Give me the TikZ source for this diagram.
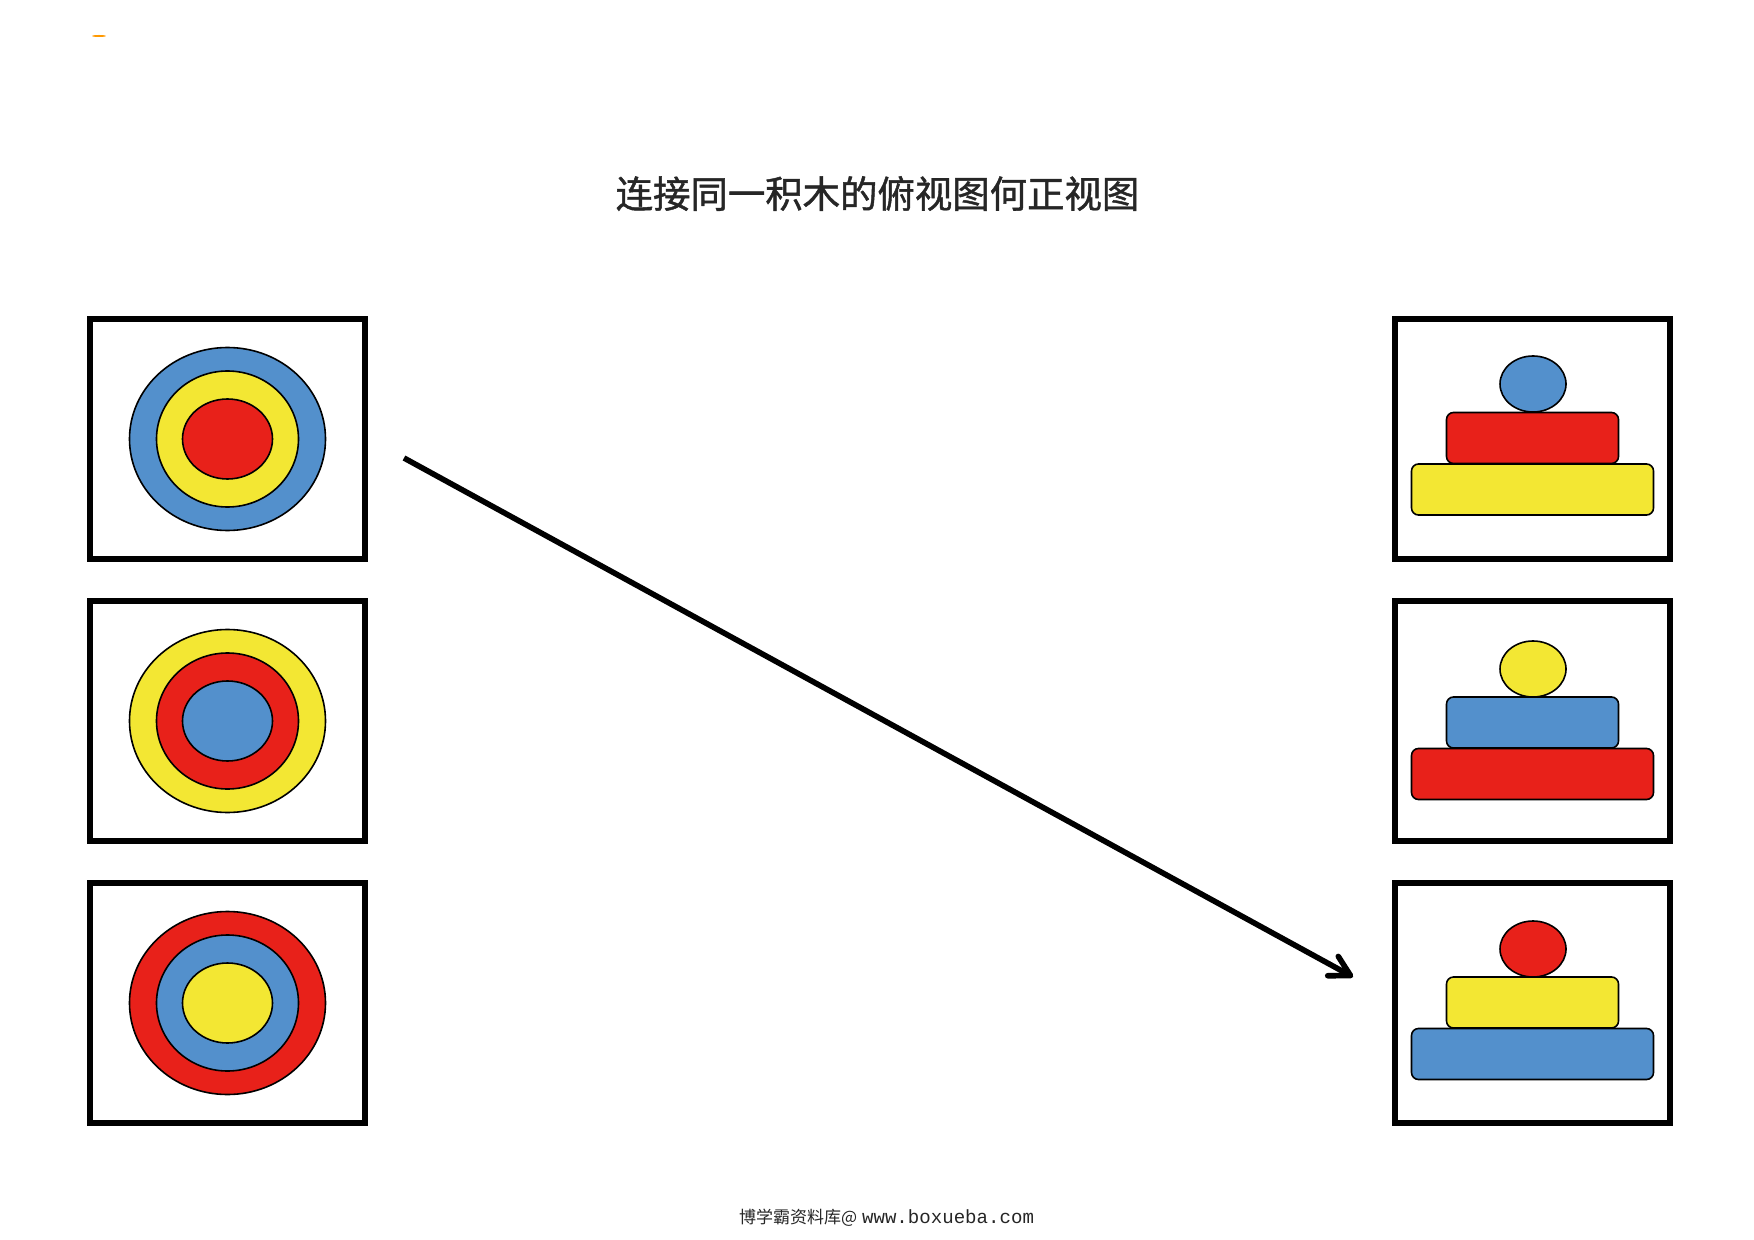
\documentclass[tikz,border=0pt]{standalone}
\usepackage{fontspec}
\usepackage{tikz}
\usetikzlibrary{shapes.geometric,arrows.meta}
\newfontfamily\cjk{Noto Sans CJK SC}
\newfontfamily\cjkheavy[FakeBold=1.2]{Noto Sans CJK SC}
\newfontfamily\webfont{Liberation Mono}
\definecolor{blockBlue}{HTML}{5390CC}
\definecolor{blockRed}{HTML}{E8211A}
\definecolor{blockYellow}{HTML}{F3E733}
\newcommand{\viewWidth}[0]{137.75pt}
\newcommand{\viewHeight}[0]{120pt}

\begin{document}
\begin{tikzpicture}[x=0.5pt, y=-0.5pt]
  \tikzset{every node/.style={inner sep=0pt,outer sep=0pt}}
  \tikzset{view/.style={draw=black,line width=2.9pt,fill=white,minimum width=\viewWidth,minimum height=\viewHeight}}
  \tikzset{ring/.style={ellipse,draw=black,line width=0.8pt}}
  \tikzset{ringA/.style={ring,minimum width=98pt,minimum height=91.5pt}}
  \tikzset{ringB/.style={ring,minimum width=71pt,minimum height=68pt}}
  \tikzset{ringC/.style={ring,minimum width=45pt,minimum height=40pt}}
  \tikzset{ball/.style={ellipse,draw=black,line width=0.8pt,minimum width=33pt,minimum height=28pt}}
  \tikzset{slabB/.style={rectangle,draw=black,line width=0.8pt,rounded corners=3.5pt,minimum width=86pt,minimum height=25.5pt}}
  \tikzset{slabA/.style={rectangle,draw=black,line width=0.8pt,rounded corners=3.5pt,minimum width=121pt,minimum height=25.5pt}}
  \useasboundingbox[fill=white] (0,0) rectangle (1754,1240);
  \node[ellipse,fill=orange!80!yellow,minimum width=7pt,minimum height=1pt] (speck) at (99,36) {};
  \node[font=\cjkheavy,text=black!85] (title) at (877.5,193.5) {\fontsize{18.7pt}{22pt}\selectfont 连接同一积木的俯视图何正视图};
  \node[text=black!85] (footer) at (886.5,1217.5) {\fontsize{8.5pt}{10pt}\selectfont\cjk 博学霸资料库@\hspace{2.5pt}\fontsize{9.55pt}{10pt}\selectfont\webfont www.boxueba.com};
  \node[view] (top1) at (227.5,439) {};
  \node[view] (top2) at (227.5,721) {};
  \node[view] (top3) at (227.5,1003) {};
  \node[view] (front1) at (1532.5,439) {};
  \node[view] (front2) at (1532.5,721) {};
  \node[view] (front3) at (1532.5,1003) {};
  \node[ringA,fill=blockBlue] (top1a) at (top1) {};
  \node[ringB,fill=blockYellow] (top1b) at (top1) {};
  \node[ringC,fill=blockRed] (top1c) at (top1) {};
  \node[ringA,fill=blockYellow] (top2a) at (top2) {};
  \node[ringB,fill=blockRed] (top2b) at (top2) {};
  \node[ringC,fill=blockBlue] (top2c) at (top2) {};
  \node[ringA,fill=blockRed] (top3a) at (top3) {};
  \node[ringB,fill=blockBlue] (top3b) at (top3) {};
  \node[ringC,fill=blockYellow] (top3c) at (top3) {};
  \node[ball,fill=blockBlue] (front1c) at (1533,384) {};
  \node[slabB,fill=blockRed] (front1b) at (1532.5,438) {};
  \node[slabA,fill=blockYellow] (front1a) at (1532.5,489.5) {};
  \node[ball,fill=blockYellow] (front2c) at (1533,669) {};
  \node[slabB,fill=blockBlue] (front2b) at (1532.5,722.5) {};
  \node[slabA,fill=blockRed] (front2a) at (1532.5,774) {};
  \node[ball,fill=blockRed] (front3c) at (1533,949) {};
  \node[slabB,fill=blockYellow] (front3b) at (1532.5,1002.5) {};
  \node[slabA,fill=blockBlue] (front3a) at (1532.5,1054) {};
  \coordinate (lineStart) at (404,458);
  \coordinate (lineEnd) at (1353,977);
  \draw[line width=2.8pt,-{Straight Barb[length=10pt,width=11pt,round]}] (lineStart) -- (lineEnd);
\end{tikzpicture}
\end{document}
